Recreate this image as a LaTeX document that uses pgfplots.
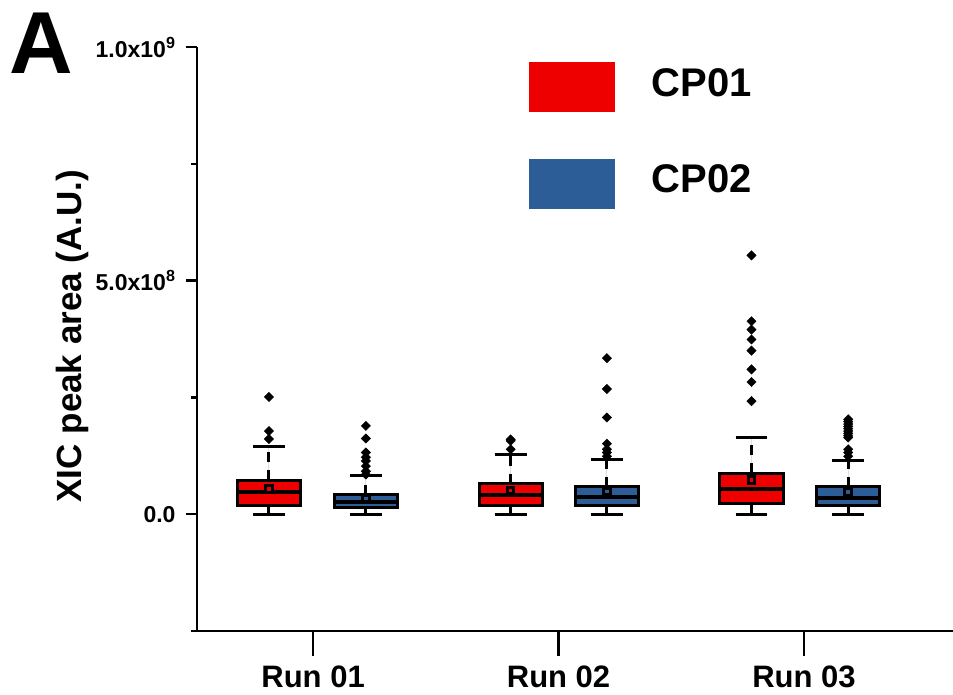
\documentclass[border=0pt]{standalone}
\usepackage{fontspec}
\setmainfont{Liberation Sans}
\usepackage{pgfplots}
\pgfplotsset{compat=1.18}
\usepgfplotslibrary{statistics}

\definecolor{cpred}{HTML}{EE0000}
\definecolor{cpblue}{HTML}{2C5D96}

% values in units of 1e8
\pgfplotsset{
  boxplot/draw/upper whisker/.code={%
    \draw[black, line width=3bp, dash pattern=on 10bp off 8bp]
      (boxplot cs:\pgfplotsboxplotvalue{upper quartile}) --
      (boxplot cs:\pgfplotsboxplotvalue{upper whisker});
    \draw[black, line width=3bp]
      (boxplot whisker cs:\pgfplotsboxplotvalue{upper whisker},0) --
      (boxplot whisker cs:\pgfplotsboxplotvalue{upper whisker},1);
  },
  boxplot/draw/lower whisker/.code={%
    \draw[black, line width=3bp]
      (boxplot cs:\pgfplotsboxplotvalue{lower quartile}) --
      (boxplot cs:\pgfplotsboxplotvalue{lower whisker})
      (boxplot whisker cs:\pgfplotsboxplotvalue{lower whisker},0) --
      (boxplot whisker cs:\pgfplotsboxplotvalue{lower whisker},1);
  },
  cpbox/.style={
    boxplot/draw direction=y,
    boxplot/box extend=0.257,
    boxplot/whisker extend=0.13,
    draw=black, line width=3bp,
    boxplot/every median/.style={line width=4bp},
    mark=square*, mark size=3.3bp,
    mark options={rotate=45, fill=black, draw=black, line width=0.4bp},
    forget plot,
  },
  cp1/.style={cpbox, fill=cpred,
    boxplot/every average/.style={/tikz/mark=square*, draw=black!55!cpred, fill=cpred, line width=0.8bp}},
  cp2/.style={cpbox, fill=cpblue,
    boxplot/every average/.style={/tikz/mark=square*, draw=black!45!cpblue, fill=cpblue!85!black, line width=0.8bp}},
}

\begin{document}
\begin{tikzpicture}
\begin{axis}[
  scale only axis,
  width=756bp, height=584bp,
  axis lines=left,
  axis line style={-, line width=2.5bp},
  clip=false,
  xmin=0.527, xmax=3.607,
  ymin=-2.5, ymax=10,
  xtick={1,2,3},
  xticklabels={Run 01, Run 02, Run 03},
  ytick={0,5,10},
  yticklabels={0.0, 5.0x10\textsuperscript{8}, 1.0x10\textsuperscript{9}},
  minor ytick={-2.5,2.5,7.5},
  tick align=outside,
  major tick length=11bp,
  minor tick length=6bp,
  tick style={line width=2.5bp, black},
  xtick style={/pgfplots/major tick length=25bp},
  xticklabel style={font=\bfseries\fontsize{31bp}{34bp}\selectfont, anchor=north, yshift=-20bp},
  yticklabel style={font=\bfseries\fontsize{23bp}{26bp}\selectfont, anchor=east, xshift=-7bp},
  ylabel={XIC peak area (A.U.)},
  ylabel style={font=\bfseries\fontsize{35bp}{38bp}\selectfont,
    at={(axis description cs:-0.165,0.505)}, anchor=center},
  legend style={at={(axis description cs:0.4392,0.9743)}, anchor=north west,
    draw=none, fill=none, inner sep=0pt, row sep=36bp,
    font=\bfseries\fontsize{40bp}{44bp}\selectfont,
    /tikz/every odd column/.append style={column sep=35bp}},
  legend cell align=left,
]
% Run 01
\addplot[cp1, boxplot prepared={lower whisker=0, lower quartile=0.193,
  median=0.472, upper quartile=0.73, upper whisker=1.459,
  average=0.536, draw position=0.820}]
  coordinates {(0,2.51) (0,1.78) (0,1.61)};
\addplot[cp2, boxplot prepared={lower whisker=0, lower quartile=0.135,
  median=0.264, upper quartile=0.414, upper whisker=0.82,
  average=0.337, draw position=1.215}]
  coordinates {(0,1.89) (0,1.62) (0,1.32) (0,1.22) (0,1.14)
    (0,1.03) (0,0.92) (0,0.85)};
% Run 02
\addplot[cp1, boxplot prepared={lower whisker=0, lower quartile=0.18,
  median=0.42, upper quartile=0.65, upper whisker=1.28,
  average=0.51, draw position=1.805}]
  coordinates {(0,1.60) (0,1.57) (0,1.39)};
\addplot[cp2, boxplot prepared={lower whisker=0, lower quartile=0.193,
  median=0.365, upper quartile=0.586, upper whisker=1.18,
  average=0.487, draw position=2.197}]
  coordinates {(0,3.34) (0,2.68) (0,2.07) (0,1.51) (0,1.39)
    (0,1.32) (0,1.24)};
% Run 03
\addplot[cp1, boxplot prepared={lower whisker=0, lower quartile=0.22,
  median=0.53, upper quartile=0.873, upper whisker=1.65,
  average=0.73, draw position=2.786}]
  coordinates {(0,5.54) (0,4.13) (0,3.95) (0,3.74) (0,3.50)
    (0,3.10) (0,2.83) (0,2.42)};
\addplot[cp2, boxplot prepared={lower whisker=0, lower quartile=0.193,
  median=0.337, upper quartile=0.586, upper whisker=1.16,
  average=0.479, draw position=3.180}]
  coordinates {(0,2.03) (0,1.98) (0,1.93) (0,1.88) (0,1.83)
    (0,1.78) (0,1.73) (0,1.68) (0,1.64) (0,1.39) (0,1.32)
    (0,1.24)};

\addlegendimage{legend image code/.code={\fill[cpred] (0bp,-14bp) rectangle (85bp,35bp);}}
\addlegendentry{\raisebox{23bp}[45bp][0pt]{CP01}}
\addlegendimage{legend image code/.code={\fill[cpblue] (0bp,-14bp) rectangle (85bp,35bp);}}
\addlegendentry{\raisebox{23bp}[45bp][0pt]{CP02}}

\node[font=\bfseries\fontsize{88bp}{90bp}\selectfont, anchor=center, inner sep=0pt]
  at (axis description cs:-0.2063,1.006) {A};
\end{axis}
\pgfresetboundingbox
\path[use as bounding box] (current axis.south west) ++(-197bp,-64bp) rectangle ++(953bp,695bp);
\end{tikzpicture}
\end{document}
